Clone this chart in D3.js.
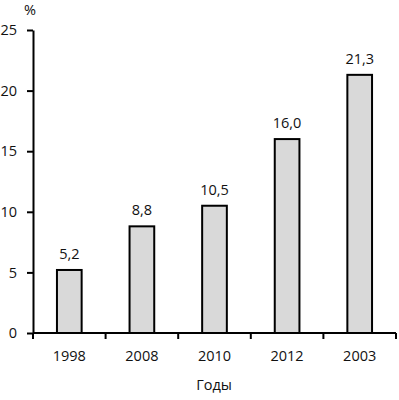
<!DOCTYPE html>
<html>
<head>
<meta charset="utf-8">
<script src="https://cdn.jsdelivr.net/npm/d3@7"></script>
<style>
  body { margin: 0; background: #fff; }
  svg text { font-family: "Open Sans", "DejaVu Sans", sans-serif; font-size: 14.5px; fill: #111; }
</style>
</head>
<body>
<div id="chart"></div>
<script>
const years = ["1998", "2008", "2010", "2012", "2003"];
const values = [5.2, 8.8, 10.5, 16.0, 21.3];
const yTicks = [0, 5, 10, 15, 20, 25];

const width = 399, height = 400;
const margin = { top: 30, right: 3, bottom: 67, left: 33 };

const svg = d3.select("#chart").append("svg")
  .attr("width", width)
  .attr("height", height);

const x = d3.scaleBand()
  .domain(years)
  .range([margin.left, width - margin.right])
  .paddingInner(0.66)
  .paddingOuter(0.33);

const y = d3.scaleLinear()
  .domain([0, 25])
  .range([height - margin.bottom, margin.top]);

const fmt = d => d.toFixed(1).replace(".", ",");

// bars
svg.append("g").selectAll("rect")
  .data(values)
  .enter()
  .append("rect")
  .attr("x", (d, i) => x(years[i]))
  .attr("y", d => y(d))
  .attr("width", x.bandwidth())
  .attr("height", d => y(0) - y(d))
  .attr("fill", "#d9d9d9")
  .attr("stroke", "#000")
  .attr("stroke-width", 2);

// value labels
svg.append("g").selectAll("text")
  .data(values)
  .enter()
  .append("text")
  .attr("x", (d, i) => x(years[i]) + x.bandwidth() / 2)
  .attr("y", d => y(d) - 11)
  .attr("text-anchor", "middle")
  .text(fmt);

// y axis
const yAxis = svg.append("g")
  .attr("transform", `translate(${margin.left},0)`)
  .call(d3.axisLeft(y).tickValues(yTicks).tickSize(6).tickSizeOuter(0).tickPadding(10));
yAxis.select(".domain").attr("stroke-width", 2);
yAxis.selectAll(".tick line").attr("stroke-width", 2);
yAxis.selectAll("text").style("font-size", "14.5px").attr("fill", "#111");

// x axis with ticks on band edges
const xAxisG = svg.append("g").attr("transform", `translate(0,${y(0)})`);
xAxisG.append("line")
  .attr("x1", margin.left)
  .attr("x2", width - margin.right)
  .attr("stroke", "#000")
  .attr("stroke-width", 2);
const step = x.step();
const edges = d3.range(years.length + 1).map(i => x(years[0]) - x.paddingOuter() * step + i * step);
xAxisG.selectAll(".edge")
  .data(edges)
  .enter()
  .append("line")
  .attr("x1", d => d)
  .attr("x2", d => d)
  .attr("y1", 0)
  .attr("y2", 6)
  .attr("stroke", "#000")
  .attr("stroke-width", 2);
xAxisG.selectAll(".lbl")
  .data(years)
  .enter()
  .append("text")
  .attr("x", d => x(d) + x.bandwidth() / 2)
  .attr("y", 28)
  .attr("text-anchor", "middle")
  .text(d => d);

// axis titles
svg.append("text")
  .attr("x", 30)
  .attr("y", 15)
  .attr("text-anchor", "middle")
  .text("%");

svg.append("text")
  .attr("x", 214)
  .attr("y", 390)
  .attr("text-anchor", "middle")
  .text("Годы");
</script>
</body>
</html>
